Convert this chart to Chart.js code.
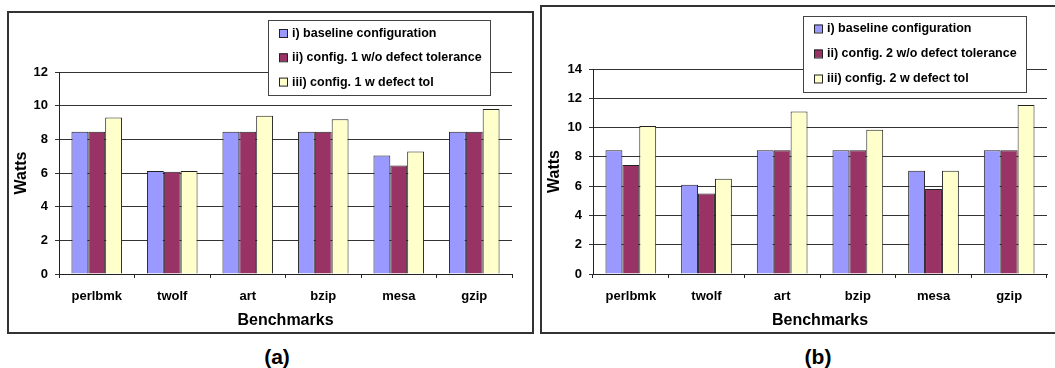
<!DOCTYPE html>
<html>
<head>
<meta charset="utf-8">
<script src="https://cdn.jsdelivr.net/npm/chart.js@4/dist/chart.umd.min.js"></script>
<style>
  html, body { margin: 0; padding: 0; background: #fff; overflow: hidden; }
  body { width: 1055px; height: 368px; position: relative; font-family: "Liberation Sans", Arial, sans-serif; }
  .frame { position: absolute; box-sizing: border-box; border: 2px solid #333; }
  .wrap { position: absolute; top: 0; height: 345px; }
  .cap { position: absolute; top: 345px; font-weight: bold; font-size: 21px; transform: translateX(-50%); }
</style>
</head>
<body>
<div class="frame" style="left:7px; top:11px; width:527px; height:323px;"></div>
<div class="frame" style="left:540px; top:5px; width:540px; height:329px;"></div>
<div class="wrap" style="left:0; width:540px;"><canvas id="chartA"></canvas></div>
<div class="wrap" style="left:540px; width:515px;"><canvas id="chartB"></canvas></div>
<div class="cap" style="left:277px;">(a)</div>
<div class="cap" style="left:818px;">(b)</div>
<script>
const categories = ['perlbmk', 'twolf', 'art', 'bzip', 'mesa', 'gzip'];

// (a) config. 1
const baselineA = [8.45, 6.12, 8.45, 8.45, 7.04, 8.45];
const noTolA = [8.45, 6.08, 8.45, 8.45, 6.45, 8.45];
const withTolA = [9.3, 6.12, 9.4, 9.2, 7.28, 9.8];
const labelsA = ['i) baseline configuration', 'ii) config. 1 w/o defect tolerance', 'iii) config. 1 w defect tol'];

// (b) config. 2
const baselineB = [8.45, 6.1, 8.45, 8.45, 7.05, 8.45];
const noTolB = [7.45, 5.5, 8.45, 8.45, 5.8, 8.45];
const withTolB = [10.1, 6.5, 11.1, 9.85, 7.05, 11.55];
const labelsB = ['i) baseline configuration', 'ii) config. 2 w/o defect tolerance', 'iii) config. 2 w defect tol'];

const colors = ['#9999FF', '#993366', '#FFFFCC'];
const FONT = '"Liberation Sans", Arial, sans-serif';

// legend drawn as a boxed overlay on top of the plot, like the Excel original
const boxLegend = {
    id: 'boxLegend',
    afterDraw(chart, args, opts) {
        const ctx = chart.ctx;
        ctx.save();
        ctx.fillStyle = '#fff';
        ctx.fillRect(opts.x, opts.y, opts.w, opts.h);
        ctx.strokeStyle = '#444';
        ctx.lineWidth = 1;
        ctx.strokeRect(opts.x + 0.5, opts.y + 0.5, opts.w, opts.h);
        ctx.font = 'bold 12.5px ' + FONT;
        ctx.textBaseline = 'middle';
        chart.data.datasets.forEach((ds, i) => {
            const cy = opts.firstY + i * opts.step;
            ctx.fillStyle = ds.backgroundColor;
            ctx.fillRect(opts.swatchX, cy - 4, 8, 8);
            ctx.strokeStyle = '#222';
            ctx.strokeRect(opts.swatchX + 0.5, cy - 3.5, 8, 8);
            ctx.fillStyle = '#000';
            ctx.fillText(ds.label, opts.textX, cy + 0.5);
        });
        ctx.restore();
    }
};

function makeChart(id, series, labels, yMax, pad, yWidth, legend) {
    new Chart(document.getElementById(id), {
        type: 'bar',
        data: {
            labels: categories,
            datasets: series.map((vals, i) => ({
                label: labels[i],
                data: vals,
                backgroundColor: colors[i],
                borderColor: '#222',
                borderWidth: 1,
                categoryPercentage: 0.67,
                barPercentage: 1.0
            }))
        },
        options: {
            responsive: true,
            maintainAspectRatio: false,
            animation: false,
            layout: { padding: pad },
            plugins: {
                legend: { display: false },
                tooltip: { enabled: false },
                boxLegend: legend
            },
            scales: {
                x: {
                    grid: { drawOnChartArea: false, drawTicks: true, tickLength: 4, color: '#222' },
                    border: { color: '#222', width: 1 },
                    ticks: { color: '#000', padding: 11, font: { family: FONT, size: 13, weight: 'bold' } },
                    title: { display: true, text: 'Benchmarks', color: '#000', padding: 0,
                             font: { family: FONT, size: 16, weight: 'bold' } },
                    afterFit(scale) { scale.height = 56; }
                },
                y: {
                    min: 0,
                    max: yMax,
                    ticks: { stepSize: 2, color: '#000', padding: 7, font: { family: FONT, size: 13, weight: 'bold' } },
                    grid: { color: '#333', tickLength: 4 },
                    border: { color: '#222', width: 1 },
                    title: { display: true, text: 'Watts', color: '#000', padding: 0,
                             font: { family: FONT, size: 16, weight: 'bold' } },
                    afterFit(scale) { scale.width = yWidth; }
                }
            }
        },
        plugins: [boxLegend]
    });
}

makeChart('chartA', [baselineA, noTolA, withTolA], labelsA, 12,
    { left: 12, top: 72, right: 28, bottom: 15 }, 47,
    { x: 268, y: 20, w: 222, h: 75, swatchX: 279, textX: 292, firstY: 33, step: 24.3 });

makeChart('chartB', [baselineB, noTolB, withTolB], labelsB, 14,
    { left: 5, top: 69, right: 8, bottom: 15 }, 48,
    { x: 263, y: 16, w: 223, h: 76, swatchX: 274, textX: 287, firstY: 28.5, step: 25 });
</script>
</body>
</html>
